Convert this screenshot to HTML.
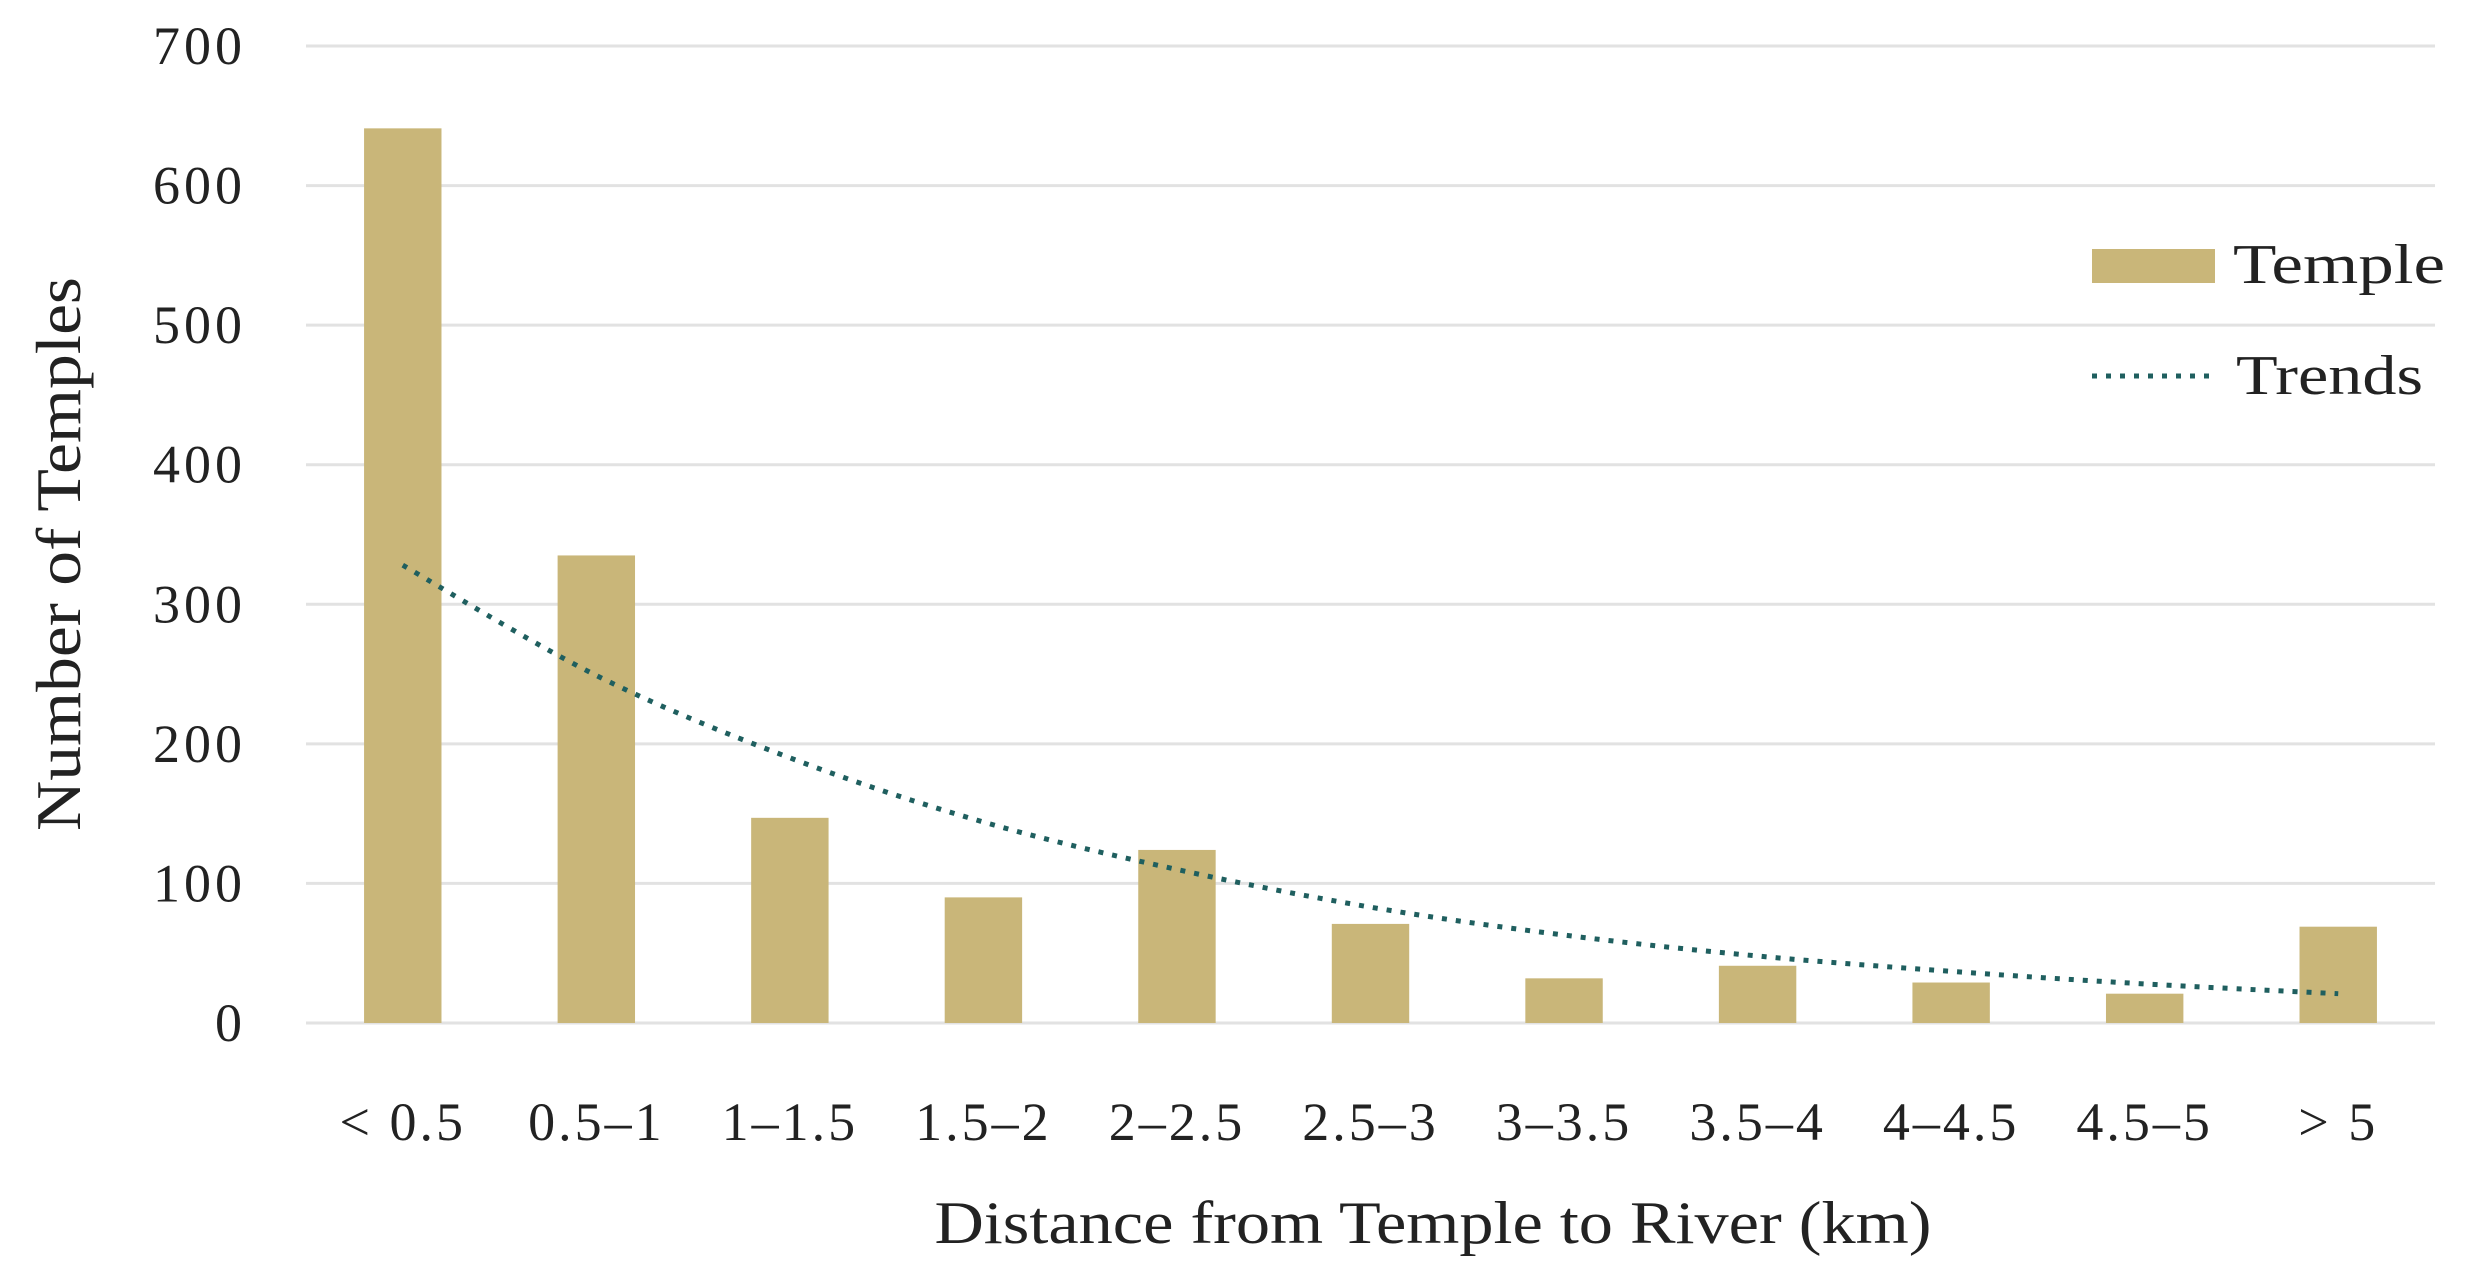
<!DOCTYPE html>
<html><head><meta charset="utf-8"><style>
html,body{margin:0;padding:0;background:#fff;}
svg{display:block;font-family:"Liberation Serif",serif;}
</style></head><body>
<svg id="chart" width="2470" height="1270" viewBox="0 0 2470 1270" xmlns="http://www.w3.org/2000/svg">
<g id="grid"></g>
<g id="bars"></g>
<path id="trend" fill="none" stroke="#1f5f5f" stroke-width="5" stroke-dasharray="5 9"/>
<g id="ylabels"></g>
<g id="xlabels"></g>
<text transform="translate(80,554) rotate(-90)" text-anchor="middle" font-size="64" textLength="554" lengthAdjust="spacingAndGlyphs" fill="#222">Number of Temples</text>
<text x="1433" y="1243" text-anchor="middle" font-size="60" textLength="997" lengthAdjust="spacingAndGlyphs" fill="#222">Distance from Temple to River (km)</text>
<g>
<rect x="2092" y="249" width="123" height="34" fill="#c9b679"/>
<text x="2233" y="283" font-size="56" textLength="212" lengthAdjust="spacingAndGlyphs" fill="#222">Temple</text>
<line x1="2092" y1="376" x2="2215" y2="376" stroke="#1f5f5f" stroke-width="5" stroke-dasharray="5 9"/>
<text x="2236" y="394" font-size="56" textLength="187" lengthAdjust="spacingAndGlyphs" fill="#222">Trends</text>
</g>
</svg>
<script>
const categories = ["< 0.5","0.5–1","1–1.5","1.5–2","2–2.5","2.5–3","3–3.5","3.5–4","4–4.5","4.5–5","> 5"];
const temples = [641,335,147,90,124,71,32,41,29,21,69];
const trends = [328,249,190,144,110,83,63,48,37,28,21];
const yTicks = [0,100,200,300,400,500,600,700];

const NS="http://www.w3.org/2000/svg";
const x0=306,x1=2435,yBase=1023,yTop=46,yMax=700;
const band=(x1-x0)/categories.length;
const yS=v=>yBase-(v/yMax)*(yBase-yTop);
const xC=i=>x0+band*(i+0.5);
function mk(t,a){const e=document.createElementNS(NS,t);for(const k in a)e.setAttribute(k,a[k]);return e;}
const grid=document.getElementById('grid'),ylab=document.getElementById('ylabels');
yTicks.forEach(v=>{
  const l=mk('line',{x1:x0,x2:x1,y1:yS(v),y2:yS(v),stroke:'#e2e2e2','stroke-width':3});
  
  
  grid.appendChild(l);
  const t=mk('text',{x:246,y:yS(v)+18,'text-anchor':'end','font-size':54,'letter-spacing':4,fill:'#222'});
  t.textContent=v;
  
  
  ylab.appendChild(t);
});
const bars=document.getElementById('bars'),xlab=document.getElementById('xlabels');
const bw=band*0.4;
temples.forEach((v,i)=>{
  const r=mk('rect',{x:xC(i)-bw/2,y:yS(v),width:bw,height:yBase-yS(v),fill:'#c9b679'});
  
  
  bars.appendChild(r);
  const t=mk('text',{x:xC(i),y:1140,'text-anchor':'middle','font-size':54,'letter-spacing':3,fill:'#222'});
  t.textContent=categories[i];
  
  
  xlab.appendChild(t);
});
const pts=trends.map((v,i)=>[xC(i),yS(v)]);
let d='M'+pts[0][0]+','+pts[0][1];
for(let i=0;i<pts.length-1;i++){
  const p0=pts[Math.max(i-1,0)],p1=pts[i],p2=pts[i+1],p3=pts[Math.min(i+2,pts.length-1)];
  const c1=[p1[0]+(p2[0]-p0[0])/6,p1[1]+(p2[1]-p0[1])/6];
  const c2=[p2[0]-(p3[0]-p1[0])/6,p2[1]-(p3[1]-p1[1])/6];
  d+=` C${c1[0]},${c1[1]} ${c2[0]},${c2[1]} ${p2[0]},${p2[1]}`;
}
document.getElementById('trend').setAttribute('d',d);
</script>
</body></html>
